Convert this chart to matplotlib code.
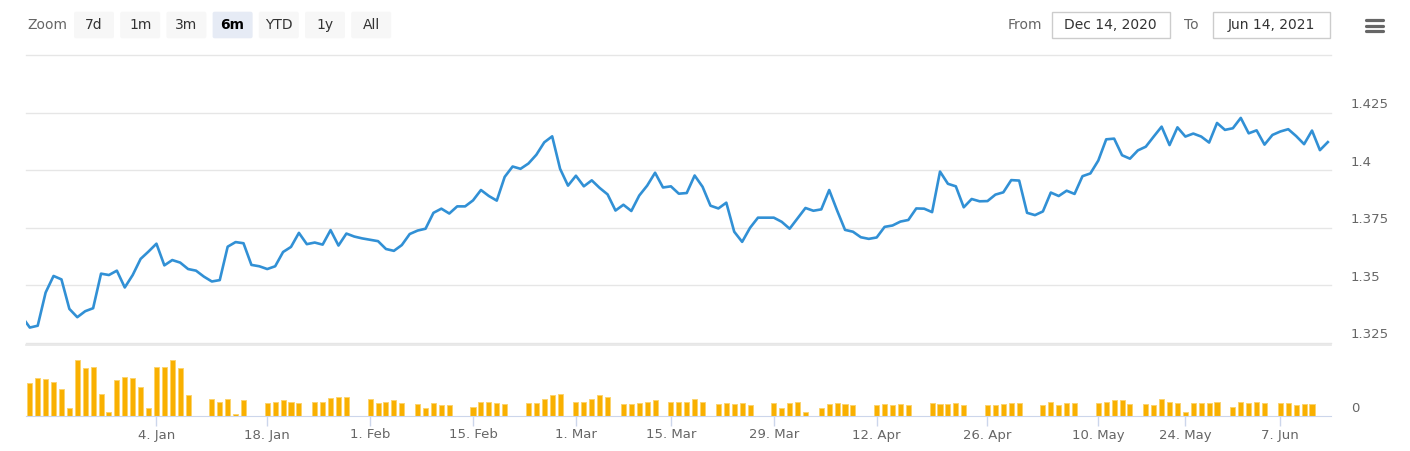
import numpy as np
import matplotlib
matplotlib.use('Agg')
import matplotlib.pyplot as plt
from matplotlib.patches import FancyBboxPatch, Rectangle

plt.rcParams['font.family'] = ['DejaVu Sans']

# daily close, first value is the point just left of the visible range
price = [1.3365,
         1.3317, 1.3325, 1.3469, 1.3541, 1.3526, 1.3398, 1.3362, 1.3388, 1.3401, 1.3551,
         1.3545, 1.3564, 1.3491, 1.3545, 1.3615, 1.3647, 1.3681, 1.3587, 1.3610, 1.3599,
         1.3571, 1.3564, 1.3538, 1.3517, 1.3523, 1.3668, 1.3688, 1.3683, 1.3589, 1.3583,
         1.3571, 1.3583, 1.3645, 1.3667, 1.3728, 1.3679, 1.3686, 1.3677, 1.3740, 1.3673,
         1.3725, 1.3712, 1.3704, 1.3698, 1.3692, 1.3658, 1.3650, 1.3675, 1.3723, 1.3738,
         1.3746, 1.3815, 1.3833, 1.3812, 1.3843, 1.3843, 1.3869, 1.3914, 1.3888, 1.3868,
         1.3971, 1.4016, 1.4006, 1.4029, 1.4067, 1.4121, 1.4147, 1.4006, 1.3933, 1.3976,
         1.3930, 1.3956, 1.3923, 1.3895, 1.3825, 1.3850, 1.3823, 1.3890, 1.3933, 1.3989,
         1.3925, 1.3930, 1.3898, 1.3901, 1.3977, 1.3928, 1.3846, 1.3834, 1.3859, 1.3733,
         1.3689, 1.3750, 1.3794, 1.3794, 1.3794, 1.3776, 1.3746, 1.3791, 1.3836, 1.3824,
         1.3830, 1.3914, 1.3825, 1.3741, 1.3733, 1.3709, 1.3702, 1.3708, 1.3754, 1.3760,
         1.3777, 1.3784, 1.3834, 1.3833, 1.3818, 1.3994, 1.3941, 1.3930, 1.3839, 1.3875,
         1.3865, 1.3866, 1.3894, 1.3904, 1.3957, 1.3955, 1.3815, 1.3805, 1.3821, 1.3903,
         1.3888, 1.3911, 1.3897, 1.3974, 1.3986, 1.4042, 1.4134, 1.4137, 1.4065, 1.4050,
         1.4086, 1.4102, 1.4146, 1.4189, 1.4109, 1.4186, 1.4146, 1.4159, 1.4146, 1.4120,
         1.4205, 1.4175, 1.4182, 1.4227, 1.4160, 1.4173, 1.4111, 1.4153, 1.4168, 1.4178,
         1.4148, 1.4113, 1.4172, 1.4087, 1.4122]

volume = [0,
          333, 380, 370, 343, 270, 80, 557, 483, 493, 220,
          43, 357, 393, 380, 293, 80, 493, 493, 557, 480,
          207, 0, 0, 170, 143, 170, 23, 160, 0, 0,
          133, 143, 160, 143, 133, 0, 143, 143, 180, 190,
          190, 0, 0, 170, 133, 143, 157, 133, 0, 120,
          80, 133, 107, 107, 0, 0, 93, 143, 143, 133,
          120, 0, 0, 133, 133, 170, 207, 220, 0, 143,
          143, 170, 207, 190, 0, 120, 120, 133, 143, 157,
          0, 143, 143, 143, 170, 143, 0, 120, 133, 120,
          133, 107, 0, 0, 133, 80, 133, 143, 43, 0,
          80, 120, 133, 120, 107, 0, 0, 107, 120, 107,
          120, 107, 0, 0, 133, 120, 120, 133, 107, 0,
          0, 107, 107, 120, 133, 133, 0, 0, 107, 143,
          107, 133, 133, 0, 0, 133, 143, 157, 157, 120,
          0, 120, 107, 170, 143, 133, 43, 133, 133, 133,
          143, 0, 93, 143, 133, 143, 133, 0, 133, 133,
          107, 120, 120, 0, 0]

# point index of each date label
tick_idx = [17, 31, 44, 57, 70, 82, 95, 108, 122, 136, 147, 159]
tick_labels = ['4. Jan', '18. Jan', '1. Feb', '15. Feb', '1. Mar', '15. Mar',
               '29. Mar', '12. Apr', '26. Apr', '10. May', '24. May', '7. Jun']

price_levels = [1.325, 1.35, 1.375, 1.4, 1.425, 1.45]
price_labels = ['1.325', '1.35', '1.375', '1.4', '1.425']

buttons = ['7d', '1m', '3m', '6m', 'YTD', '1y', 'All']
selected = '6m'
date_from = 'Dec 14, 2020'
date_to = 'Jun 14, 2021'

W, H = 1410, 451
fig = plt.figure(figsize=(W / 100, H / 100), dpi=100)

def box(l, t, r, b):
    return [l / W, 1 - b / H, (r - l) / W, (b - t) / H]

x = np.arange(len(price))

# price pane
ax = fig.add_axes(box(26, 55, 1331, 343))
for lv in price_levels:
    ax.axhline(lv, color='#e6e6e6', lw=1, zorder=1, clip_on=False)
ax.plot(x, price, color='#3190d5', lw=1.9, solid_joinstyle='round', zorder=3)
ax.set_ylim(1.325, 1.45)
ax.set_xlim(0.52, 165.4)
ax.axis('off')
for lv, lab in zip(price_levels, price_labels):
    ax.annotate(lab, xy=(1, lv), xycoords=('axes fraction', 'data'),
                xytext=(20, 8), textcoords='offset pixels',
                ha='left', va='center', fontsize=9.5, color='#666666')

# volume pane
axv = fig.add_axes(box(26, 345, 1331, 416))
axv.bar(x, volume, width=0.64, color='#f9b000', edgecolor='#fcd36e', linewidth=0.7, zorder=2)
axv.set_ylim(0, 710)
axv.set_xlim(0.52, 165.4)
axv.axhline(710, color='#e6e6e6', lw=1.2, clip_on=False)
for s in ['top', 'left', 'right']:
    axv.spines[s].set_visible(False)
axv.spines['bottom'].set_color('#ccd6eb')
axv.set_yticks([])
axv.set_xticks(tick_idx)
axv.set_xticklabels(tick_labels, fontsize=9.5, color='#666666')
axv.tick_params(axis='x', length=7.5, width=1, color='#ccd6eb', pad=1.5)
axv.annotate('0', xy=(1, 0), xycoords='axes fraction', xytext=(20, 8),
             textcoords='offset pixels', ha='left', va='center',
             fontsize=9.5, color='#666666')

# toolbar drawn in pixel coordinates
ov = fig.add_axes([0, 0, 1, 1], zorder=-1)
ov.set_xlim(0, W)
ov.set_ylim(H, 0)
ov.axis('off')

ov.text(27, 25, 'Zoom', ha='left', va='center', fontsize=10, color='#666666')
left = 74
for b in buttons:
    sel = b == selected
    ov.add_patch(FancyBboxPatch((left + 2, 13.7), 36, 22.6, boxstyle='round,pad=2',
                                fc='#e6ebf5' if sel else '#f7f7f7', ec='none'))
    ov.text(left + 20, 25, b, ha='center', va='center', fontsize=10,
            color='#000000' if sel else '#333333',
            fontweight='bold' if sel else 'normal')
    left += 46.2

ov.text(1042, 25, 'From', ha='right', va='center', fontsize=10, color='#666666')
ov.add_patch(Rectangle((1051.5, 12), 118.5, 26, fc='white', ec='#cccccc', lw=1))
ov.text(1110.5, 25, date_from, ha='center', va='center', fontsize=10, color='#333333')
ov.text(1184, 25, 'To', ha='left', va='center', fontsize=10, color='#666666')
ov.add_patch(Rectangle((1212.5, 12), 117.5, 26, fc='white', ec='#cccccc', lw=1))
ov.text(1271, 25, date_to, ha='center', va='center', fontsize=10, color='#333333')

for yy in [20, 25.7, 31.4]:
    ov.plot([1366, 1383], [yy, yy], color='#666666', lw=2.3, solid_capstyle='round')

fig.savefig('out.png', dpi=100)
